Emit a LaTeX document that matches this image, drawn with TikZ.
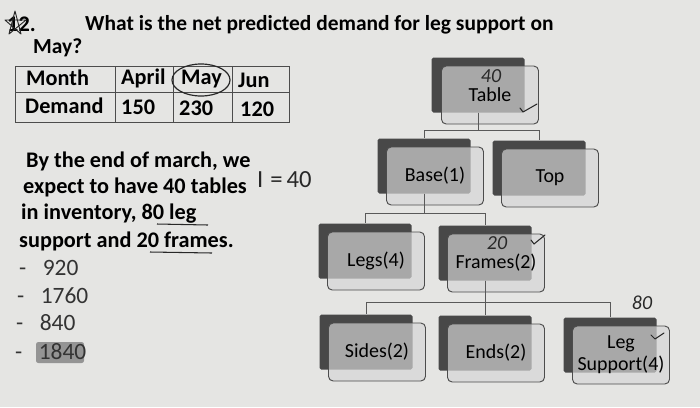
\documentclass[tikz,border=0pt]{standalone}
\usepackage{fontspec}
\setmainfont{Carlito}
\usetikzlibrary{positioning}

\definecolor{paper}{RGB}{229,229,227}
\definecolor{backgray}{RGB}{72,72,72}
\definecolor{frontgray}{RGB}{214,214,214}
\definecolor{inkgray}{RGB}{40,40,40}

\begin{document}
\begin{tikzpicture}[
    x=0.03cm,y=-0.03cm,
    font=\fontsize{16}{18}\selectfont,
    back/.style={
        fill=backgray,
        rounded corners=1.5pt,
        minimum width=2.79cm,
        minimum height=1.65cm,
        inner sep=0pt
    },
    front/.style={
        draw=black!70,
        line width=0.8pt,
        rounded corners=4pt,
        fill=frontgray,
        fill opacity=0.68,
        text opacity=1,
        minimum width=2.91cm,
        minimum height=1.74cm,
        align=center,
        inner sep=1pt,
        font=\fontsize{17}{19}\selectfont
    },
    link/.style={draw=black!65, line width=0.8pt},
    cell/.style={anchor=west, font=\fontsize{19}{21}\selectfont\bfseries, inner sep=0pt},
    para/.style={anchor=west, font=\fontsize{19}{21}\selectfont\bfseries, inner sep=0pt},
    choice/.style={anchor=west, font=\fontsize{20}{22}\selectfont, text=black!80, inner sep=0pt},
    hand/.style={font=\fontsize{17}{18}\selectfont\itshape, text=inkgray, inner sep=0pt},
    tick/.style={draw=inkgray, line width=0.9pt, line cap=round, line join=round}
]

% -----------------------------------------------------------------------------
% Page
% -----------------------------------------------------------------------------
\fill[paper] (0,0) rectangle (700,407);
\useasboundingbox (0,0) rectangle (700,407);

% -----------------------------------------------------------------------------
% Question
% -----------------------------------------------------------------------------
\node[para, anchor=west] (num) at (7,24) {12.};
\draw[inkgray, line width=0.8pt, line join=round]
    (9,34) -- (15,11) -- (21,34) -- (5,20) -- (26,20) -- cycle;
\node[para, font=\fontsize{18.3}{20}\selectfont\bfseries] (quest) at (85,25)
    {What is the net predicted demand for leg support on};
\node[para, font=\fontsize{18.3}{20}\selectfont\bfseries] (may) at (33,48) {May?};

% -----------------------------------------------------------------------------
% Demand table
% -----------------------------------------------------------------------------
\draw[black!70, line width=0.7pt] (15,66) rectangle (289,122);
\draw[black!70, line width=0.7pt] (15,92) -- (289,92);
\foreach \cx in {115,173,232}
    \draw[black!70, line width=0.7pt] (\cx,66) -- (\cx,122);

\node[cell] (hmonth) at (26,78) {Month};
\node[cell] (hapril) at (121,78) {April};
\node[cell] (hmay) at (181,79) {May};
\node[cell] (hjun) at (238,80) {Jun};
\node[cell] (hdemand) at (25,106) {Demand};
\node[cell] (dapril) at (121,107) {150};
\node[cell] (dmay) at (179,108) {230};
\node[cell] (djun) at (240,109) {120};
\draw[inkgray, line width=1pt] (201,80) ellipse (29 and 16);

% -----------------------------------------------------------------------------
% Text and choices
% -----------------------------------------------------------------------------
\node[para] (line1) at (26,161) {By the end of march, we};
\node[para] (line2) at (23,187) {expect to have 40 tables};
\node[para] (line3) at (21,214) {in inventory, 80 leg};
\node[para] (line4) at (19,241) {support and 20 frames.};
\node[hand, anchor=west, font=\fontsize{21}{22}\selectfont] (inv) at (257,180) {I\;=\,40};
\draw[inkgray, line width=0.9pt] (157,224) -- (208,225);
\draw[inkgray, line width=0.9pt] (150,252) -- (212,253);

\fill[black!42, rounded corners=2pt] (36,342) rectangle (84,363);
\node[choice] (c1) at (19,268) {-\hspace{14pt}920};
\node[choice] (c2) at (17,296) {-\hspace{14pt}1760};
\node[choice] (c3) at (16,323) {-\hspace{14pt}840};
\node[choice] (c4) at (15,352) {-\hspace{14pt}1840};

% -----------------------------------------------------------------------------
% Product structure tree
% -----------------------------------------------------------------------------
\node[back] (table) at (478,85) {};
\node[back] (base) at (424,166) {};
\node[back] (top) at (539,168) {};
\node[back] (legs) at (365,251) {};
\node[back] (frames) at (485,253) {};
\node[back] (sides) at (366,342) {};
\node[back] (ends) at (485,343) {};
\node[back] (legsup) at (610,345) {};

\node[front] (table-f) at ([shift={(12,10)}]table.center) {Table};
\node[front] (base-f) at ([shift={(11,10)}]base.center) {Base(1)};
\node[front] (top-f) at ([shift={(11,10)}]top.center) {Top};
\node[front] (legs-f) at ([shift={(11,10)}]legs.center) {Legs(4)};
\node[front] (frames-f) at ([shift={(11,10)}]frames.center) {Frames(2)};
\node[front] (sides-f) at ([shift={(11,10)}]sides.center) {Sides(2)};
\node[front] (ends-f) at ([shift={(11,10)}]ends.center) {Ends(2)};
\node[front] (legsup-f) at ([shift={(11,10)}]legsup.center) {Leg\\Support(4)};

\draw[link] (table.south) -- ++(0,18) -| (base.north);
\draw[link] (table.south) -- ++(0,18) -| (top.north);
\draw[link] (base.south) -- ++(0,20) -| (legs.north);
\draw[link] (base.south) -- ++(0,20) -| (frames.north);
\draw[link] (frames.south) -- (ends.north);
\draw[link] (frames.south) -- ++(0,22) -| (sides.north);
\draw[link] (frames.south) -- ++(0,22) -| (legsup.north);

% handwritten notes
\node[hand] (n40) at (491,76) {40};
\node[hand] (n20) at (497,243) {20};
\node[hand] (n80) at (642,303) {80};
\draw[tick] (520,108) -- (523,112) -- (537,104);
\draw[tick] (531,240) -- (534,244) -- (545,235);
\draw[tick] (651,335) -- (655,339) -- (664,333);

\end{tikzpicture}
\end{document}
